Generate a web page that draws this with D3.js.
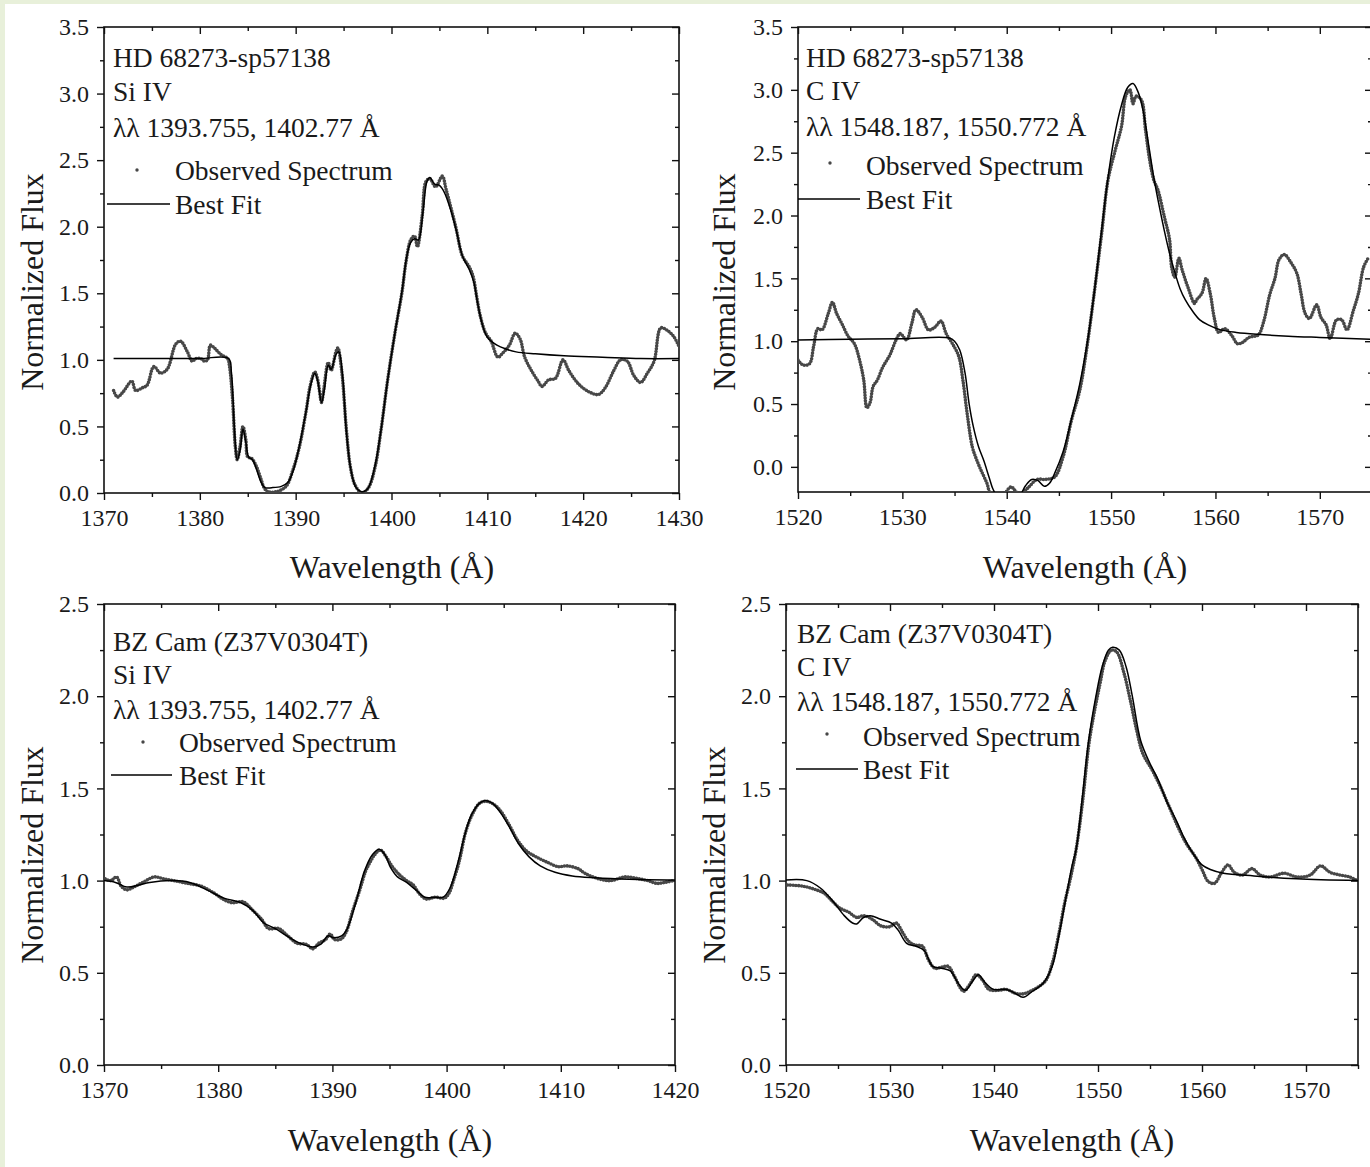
<!DOCTYPE html>
<html>
<head>
<meta charset="utf-8">
<script src="https://cdnjs.cloudflare.com/ajax/libs/d3/7.8.5/d3.min.js"></script>
<style>
body{margin:0;background:#e8f0da;}
svg{display:block;}
text{font-family:"Liberation Serif","Times New Roman",serif;fill:#1a1a1a;}
</style>
</head>
<body>
<svg id="fig" width="1370" height="1167"></svg>
<script>
// ---- data: [wavelength, normalized flux] ----
var obsSiHD = [[1371.0,0.77],[1371.4,0.72],[1372.0,0.76],[1372.9,0.84],[1373.3,0.77],[1374.0,0.79],[1374.5,0.81],[1375.2,0.95],[1375.9,0.90],[1376.6,0.93],[1377.5,1.12],[1378.0,1.14],[1378.7,1.06],[1379.2,0.99],[1379.6,1.01],[1380.1,1.01],[1380.5,0.99],[1380.8,1.00],[1381.1,1.11],[1381.5,1.09],[1382.2,1.04],[1382.9,1.01],[1383.1,0.95],[1383.4,0.72],[1383.7,0.35],[1383.9,0.25],[1384.2,0.35],[1384.5,0.50],[1384.8,0.40],[1385.0,0.27],[1385.4,0.26],[1385.9,0.20],[1386.4,0.10],[1386.7,0.04],[1387.1,0.01],[1388.0,0.01],[1389.0,0.05],[1389.7,0.17],[1390.4,0.35],[1391.1,0.62],[1391.5,0.80],[1392.0,0.91],[1392.3,0.85],[1392.7,0.68],[1392.9,0.76],[1393.4,0.98],[1393.7,0.92],[1394.2,1.06],[1394.4,1.09],[1394.8,0.92],[1395.3,0.47],[1395.7,0.20],[1396.2,0.06],[1396.9,0.00],[1397.6,0.04],[1398.3,0.20],[1398.9,0.47],[1399.6,0.85],[1400.4,1.22],[1401.1,1.51],[1401.5,1.73],[1402.0,1.90],[1402.4,1.93],[1402.7,1.85],[1403.2,2.08],[1403.6,2.34],[1404.0,2.36],[1404.6,2.30],[1405.3,2.38],[1405.7,2.28],[1406.7,2.00],[1407.4,1.78],[1408.1,1.70],[1408.5,1.63],[1408.9,1.47],[1409.2,1.35],[1409.7,1.22],[1410.0,1.18],[1410.4,1.14],[1411.1,1.02],[1411.6,1.05],[1412.3,1.11],[1412.9,1.20],[1413.4,1.16],[1413.9,1.02],[1414.6,0.92],[1415.3,0.84],[1415.7,0.80],[1416.4,0.85],[1417.1,0.86],[1417.9,1.00],[1418.5,0.92],[1419.5,0.82],[1420.6,0.76],[1421.6,0.74],[1422.3,0.79],[1423.2,0.92],[1423.9,1.00],[1424.6,0.99],[1425.3,0.88],[1426.0,0.83],[1426.7,0.90],[1427.4,0.99],[1428.1,1.24],[1428.8,1.22],[1429.5,1.17],[1430.0,1.10]];
var fitSiHD = [[1371.0,1.01],[1376,1.01],[1380,1.01],[1383.0,1.01],[1383.3,0.90],[1383.6,0.50],[1383.9,0.25],[1384.2,0.32],[1384.5,0.48],[1384.8,0.38],[1385.1,0.27],[1385.5,0.25],[1385.9,0.18],[1386.4,0.08],[1386.8,0.04],[1387.5,0.04],[1388.5,0.05],[1389.2,0.08],[1389.8,0.18],[1390.4,0.36],[1391.1,0.62],[1391.6,0.82],[1392.0,0.90],[1392.3,0.84],[1392.7,0.68],[1393.0,0.78],[1393.4,0.96],[1393.7,0.93],[1394.2,1.04],[1394.5,1.06],[1394.9,0.88],[1395.3,0.45],[1395.8,0.16],[1396.3,0.04],[1396.9,0.01],[1397.5,0.03],[1398.2,0.18],[1398.9,0.47],[1399.6,0.85],[1400.4,1.22],[1401.1,1.52],[1401.6,1.78],[1402.0,1.88],[1402.4,1.91],[1402.8,1.90],[1403.3,2.12],[1403.7,2.34],[1404.0,2.37],[1404.5,2.32],[1405.0,2.31],[1405.5,2.26],[1406.2,2.12],[1406.8,1.96],[1407.4,1.78],[1408.1,1.68],[1408.6,1.58],[1409.0,1.42],[1409.5,1.26],[1410.0,1.17],[1411,1.11],[1412,1.08],[1413,1.06],[1415,1.045],[1418,1.03],[1422,1.02],[1426,1.01],[1430,1.01]];

var obsCivHD = [[1520.0,0.85],[1520.5,0.81],[1521.1,0.82],[1521.5,0.96],[1521.9,1.10],[1522.3,1.09],[1522.9,1.22],[1523.3,1.31],[1523.7,1.22],[1524.2,1.14],[1524.8,1.04],[1525.4,0.98],[1525.9,0.85],[1526.3,0.69],[1526.6,0.47],[1526.9,0.51],[1527.2,0.64],[1527.6,0.69],[1528.1,0.79],[1528.8,0.89],[1529.4,1.01],[1529.8,1.06],[1530.4,1.01],[1530.9,1.14],[1531.3,1.25],[1531.9,1.19],[1532.5,1.09],[1533.1,1.11],[1533.7,1.16],[1534.2,1.06],[1534.8,0.98],[1535.4,0.88],[1535.8,0.69],[1536.2,0.43],[1536.7,0.16],[1537.1,0.06],[1537.5,-0.02],[1538.1,-0.13],[1538.5,-0.22],[1539.5,-0.24],[1540.4,-0.16],[1541.2,-0.22],[1542.0,-0.17],[1542.9,-0.10],[1543.7,-0.10],[1544.6,-0.08],[1545.4,0.08],[1546.2,0.37],[1547.0,0.61],[1547.7,0.96],[1548.3,1.33],[1549.1,1.86],[1549.7,2.28],[1550.4,2.52],[1551.0,2.71],[1551.4,2.95],[1551.8,3.00],[1552.1,2.89],[1552.4,2.95],[1552.9,2.92],[1553.3,2.68],[1553.7,2.44],[1554.1,2.28],[1554.5,2.20],[1555.1,1.99],[1555.6,1.81],[1555.8,1.59],[1556.1,1.51],[1556.5,1.66],[1556.8,1.57],[1557.4,1.42],[1558.0,1.30],[1558.2,1.33],[1558.7,1.38],[1559.1,1.50],[1559.5,1.38],[1559.9,1.18],[1560.3,1.07],[1560.9,1.10],[1561.6,1.04],[1562.1,0.98],[1562.6,0.99],[1563.2,1.03],[1564.1,1.05],[1564.6,1.15],[1565.2,1.37],[1565.7,1.50],[1566.1,1.65],[1566.6,1.69],[1567.2,1.63],[1567.8,1.54],[1568.2,1.38],[1568.6,1.22],[1569.0,1.18],[1569.7,1.29],[1570.1,1.19],[1570.6,1.13],[1571.0,1.02],[1571.6,1.17],[1572.1,1.17],[1572.6,1.09],[1573.2,1.24],[1573.7,1.38],[1574.2,1.59],[1574.7,1.67]];
var fitCivHD = [[1520,1.01],[1525,1.015],[1530,1.02],[1534.5,1.025],[1535.0,1.0],[1535.5,0.93],[1536.0,0.75],[1536.4,0.50],[1536.8,0.32],[1537.3,0.16],[1537.8,0.05],[1538.3,-0.08],[1538.7,-0.18],[1539.2,-0.24],[1540.5,-0.25],[1541.3,-0.22],[1541.8,-0.15],[1542.4,-0.10],[1543.0,-0.11],[1543.6,-0.155],[1544.1,-0.13],[1544.6,-0.05],[1545.4,0.12],[1546.2,0.38],[1547.0,0.66],[1547.7,0.98],[1548.3,1.33],[1549.0,1.82],[1549.7,2.30],[1550.3,2.62],[1551.0,2.88],[1551.6,3.02],[1552.1,3.05],[1552.6,2.98],[1553.1,2.82],[1553.6,2.56],[1554.1,2.30],[1554.6,2.08],[1555.1,1.88],[1555.6,1.70],[1556.1,1.55],[1556.6,1.42],[1557.1,1.33],[1557.8,1.24],[1558.5,1.17],[1559.3,1.13],[1560.5,1.09],[1562.0,1.07],[1564.0,1.055],[1567.0,1.04],[1570.0,1.03],[1575.0,1.015]];

var obsSiBZ = [[1370.1,1.01],[1370.6,1.0],[1371.1,1.02],[1371.5,0.97],[1372.0,0.95],[1372.6,0.965],[1373.4,0.99],[1374.4,1.02],[1375.2,1.01],[1376.1,1.0],[1377.3,0.985],[1378.5,0.97],[1379.7,0.93],[1380.4,0.90],[1381.2,0.88],[1382.2,0.885],[1383.0,0.84],[1383.8,0.79],[1384.4,0.74],[1385.3,0.74],[1386.1,0.70],[1386.9,0.66],[1387.7,0.655],[1388.3,0.63],[1388.8,0.66],[1389.4,0.68],[1389.8,0.71],[1390.2,0.68],[1390.8,0.685],[1391.2,0.72],[1391.8,0.84],[1392.4,0.95],[1392.9,1.05],[1393.3,1.10],[1393.7,1.14],[1394.2,1.166],[1394.7,1.13],[1395.2,1.08],[1395.9,1.03],[1396.5,1.00],[1397.1,0.975],[1397.6,0.93],[1398.2,0.90],[1399.0,0.91],[1399.8,0.905],[1400.2,0.93],[1400.6,1.0],[1401.0,1.08],[1401.2,1.13],[1401.7,1.27],[1402.3,1.365],[1402.9,1.42],[1403.5,1.43],[1404.1,1.415],[1404.7,1.38],[1405.5,1.30],[1406.2,1.22],[1407.0,1.16],[1407.8,1.13],[1408.8,1.10],[1409.8,1.075],[1410.5,1.08],[1411.5,1.065],[1412.1,1.04],[1413.3,1.01],[1414.4,1.0],[1415.6,1.02],[1416.8,1.01],[1417.6,1.0],[1418.4,0.985],[1419.1,0.99],[1419.9,1.0]];
var fitSiBZ = [[1370,1.0],[1371,0.99],[1372,0.965],[1373,0.975],[1374,0.99],[1376,1.0],[1377.5,0.99],[1379,0.95],[1380.5,0.905],[1382,0.88],[1383,0.84],[1384,0.77],[1385,0.74],[1386,0.70],[1387,0.665],[1388.3,0.64],[1389,0.655],[1389.6,0.70],[1390.1,0.69],[1390.8,0.70],[1391.3,0.74],[1392,0.87],[1392.8,1.05],[1393.5,1.14],[1394.1,1.17],[1394.6,1.14],[1395.1,1.07],[1395.7,1.02],[1396.5,0.99],[1397.3,0.95],[1398.1,0.91],[1399,0.91],[1399.7,0.91],[1400.3,0.96],[1401,1.1],[1401.6,1.25],[1402.2,1.36],[1402.9,1.42],[1403.4,1.435],[1404,1.42],[1404.7,1.37],[1405.5,1.29],[1406.3,1.20],[1407.2,1.13],[1408.2,1.08],[1409.5,1.045],[1411,1.025],[1413,1.015],[1416,1.007],[1420,1.003]];

var obsCivBZ = [[1520.15,0.976],[1521.6,0.97],[1522.9,0.95],[1523.7,0.93],[1524.5,0.885],[1525.2,0.85],[1526.0,0.83],[1526.8,0.80],[1527.45,0.81],[1528.3,0.79],[1529.1,0.755],[1530.0,0.75],[1530.6,0.77],[1531.2,0.72],[1531.8,0.67],[1532.45,0.65],[1533.1,0.645],[1533.7,0.57],[1534.3,0.525],[1534.95,0.53],[1535.6,0.535],[1536.2,0.48],[1536.8,0.415],[1537.1,0.40],[1537.7,0.44],[1538.3,0.49],[1538.9,0.46],[1539.5,0.41],[1540.4,0.405],[1541.2,0.41],[1542.0,0.39],[1542.7,0.385],[1543.5,0.40],[1544.3,0.425],[1545.0,0.46],[1545.6,0.55],[1546.2,0.70],[1546.8,0.88],[1547.3,1.0],[1547.9,1.17],[1548.5,1.42],[1549.1,1.73],[1549.5,1.87],[1550.2,2.07],[1550.7,2.195],[1551.3,2.25],[1551.8,2.24],[1552.5,2.125],[1553.1,1.98],[1553.7,1.82],[1554.3,1.69],[1555.2,1.60],[1556.0,1.51],[1556.85,1.40],[1557.7,1.29],[1558.5,1.20],[1559.35,1.13],[1560.0,1.06],[1560.6,0.995],[1561.2,0.985],[1561.85,1.04],[1562.5,1.085],[1563.1,1.045],[1563.9,1.03],[1564.8,1.065],[1565.6,1.03],[1566.6,1.02],[1567.9,1.04],[1569.1,1.02],[1570.4,1.03],[1571.4,1.08],[1572.3,1.045],[1573.3,1.03],[1574.2,1.02],[1574.9,1.0]];
var fitCivBZ = [[1520.0,1.003],[1522.0,1.0],[1523.3,0.96],[1524.5,0.89],[1525.6,0.81],[1526.4,0.77],[1526.8,0.765],[1527.45,0.80],[1528.1,0.81],[1529.1,0.79],[1530.15,0.77],[1530.8,0.73],[1531.6,0.66],[1532.45,0.645],[1533.3,0.62],[1534.1,0.535],[1534.95,0.525],[1535.8,0.51],[1536.6,0.44],[1537.25,0.405],[1537.9,0.45],[1538.5,0.49],[1539.1,0.45],[1539.95,0.41],[1541.2,0.41],[1542.0,0.39],[1542.8,0.367],[1543.7,0.40],[1544.75,0.445],[1545.6,0.535],[1546.2,0.69],[1546.8,0.87],[1547.5,1.08],[1547.9,1.17],[1548.5,1.455],[1549.1,1.76],[1549.8,2.0],[1550.4,2.16],[1551.0,2.25],[1551.4,2.265],[1552.05,2.25],[1552.7,2.16],[1553.3,2.0],[1554.1,1.76],[1555.0,1.635],[1555.8,1.545],[1556.6,1.43],[1557.5,1.33],[1558.3,1.23],[1559.1,1.15],[1560.0,1.085],[1560.8,1.06],[1562.05,1.04],[1565.0,1.025],[1569.1,1.01],[1575.0,1.0]];

// tick values
var siTicksHD = [1370,1380,1390,1400,1410,1420,1430];
var siTicksBZ = [1370,1380,1390,1400,1410,1420];
var civTicks = [1520,1530,1540,1550,1560,1570];
var fluxTicksHD = [0,0.5,1,1.5,2,2.5,3,3.5];
var fluxTicksBZ = [0,0.5,1,1.5,2,2.5];

// labels
var starHD = 'HD 68273-sp57138';
var starBZ = 'BZ Cam (Z37V0304T)';
var ionSi = 'Si IV', ionC = 'C IV';
var waveSi = 'λλ 1393.755, 1402.77 Å';
var waveC = 'λλ 1548.187, 1550.772 Å';
var legendObs = 'Observed Spectrum', legendFit = 'Best Fit';
var xTitle = 'Wavelength (Å)', yTitle = 'Normalized Flux';

var svg = d3.select('#fig');
svg.append('rect').attr('width',1370).attr('height',1167).attr('fill','#e8f0da');
svg.append('rect').attr('x',5).attr('y',4).attr('width',1365).attr('height',1163).attr('fill','#fff');

// panel layout (pixels)
var panels = [
	{id:'a', obs:obsSiHD, fit:fitSiHD, xd:[1370,1430], yd:[0,3.5], xt:siTicksHD, yt:fluxTicksHD,
	 l:104, r:679, t:27, b:493, lines:[starHD,ionSi,waveSi], ly:[57,91,127], lx:113,
	 dot:[137,170], obsY:170, lineX:[107,170], fitY:204, legX:175,
	 yTitleX:32, yTitleY:282, xTitleX:392, xTitleY:567},
	{id:'b', obs:obsCivHD, fit:fitCivHD, xd:[1520,1575], yd:[-0.2,3.5], xt:civTicks, yt:fluxTicksHD,
	 l:798, r:1372, t:27, b:492, lines:[starHD,ionC,waveC], ly:[57,90,126], lx:806,
	 dot:[830,163], obsY:165, lineX:[798,860], fitY:199, legX:866,
	 yTitleX:724, yTitleY:282, xTitleX:1085, xTitleY:567},
	{id:'c', obs:obsSiBZ, fit:fitSiBZ, xd:[1370,1420], yd:[0,2.5], xt:siTicksBZ, yt:fluxTicksBZ,
	 l:104, r:675, t:604, b:1065, lines:[starBZ,ionSi,waveSi], ly:[641,674,709], lx:113,
	 dot:[143,742], obsY:742, lineX:[111,172], fitY:775, legX:179,
	 yTitleX:32, yTitleY:855, xTitleX:390, xTitleY:1140},
	{id:'d', obs:obsCivBZ, fit:fitCivBZ, xd:[1520,1575], yd:[0,2.5], xt:civTicks, yt:fluxTicksBZ,
	 l:786, r:1358, t:604, b:1065, lines:[starBZ,ionC,waveC], ly:[633,666,701], lx:797,
	 dot:[827,734], obsY:736, lineX:[796,858], fitY:769, legX:863,
	 yTitleX:714, yTitleY:855, xTitleX:1072, xTitleY:1140}
];

function minorOf(ticks, step, dom){
	var out = [];
	ticks.forEach(function(t){ var m = t + step/2; if (m <= dom[1] + 1e-9) out.push(m); });
	return out;
}

function styleAxis(sel){
	sel.select('.domain').remove();
	sel.selectAll('line').attr('stroke','#111').attr('stroke-width',1.4);
	sel.selectAll('text').attr('font-size',24).attr('font-family','"Liberation Serif",serif').attr('fill','#1a1a1a');
}

panels.forEach(function(p){
	var x = d3.scaleLinear().domain(p.xd).range([p.l,p.r]);
	var y = d3.scaleLinear().domain(p.yd).range([p.b,p.t]);
	var g = svg.append('g');

	g.append('clipPath').attr('id','clip-'+p.id)
		.append('rect').attr('x',p.l).attr('y',p.t).attr('width',p.r-p.l).attr('height',p.b-p.t);

	var xMinor = minorOf([p.xd[0]-10].concat(p.xt), 10, p.xd).filter(function(v){return v>p.xd[0];});
	var yMinor = minorOf(p.yt, 0.5, p.yd);

	// bottom + left outward, top + right inward
	g.append('g').attr('transform','translate(0,'+p.b+')')
		.call(d3.axisBottom(x).tickValues(p.xt).tickSize(7).tickSizeOuter(0).tickPadding(9).tickFormat(d3.format('d')))
		.call(styleAxis);
	g.append('g').attr('transform','translate(0,'+p.b+')')
		.call(d3.axisBottom(x).tickValues(xMinor).tickSize(4).tickSizeOuter(0).tickFormat(''))
		.call(styleAxis);
	g.append('g').attr('transform','translate(0,'+p.t+')')
		.call(d3.axisTop(x).tickValues(p.xt).tickSize(-7).tickSizeOuter(0).tickFormat(''))
		.call(styleAxis);
	g.append('g').attr('transform','translate(0,'+p.t+')')
		.call(d3.axisTop(x).tickValues(xMinor).tickSize(-4).tickSizeOuter(0).tickFormat(''))
		.call(styleAxis);
	g.append('g').attr('transform','translate('+p.l+',0)')
		.call(d3.axisLeft(y).tickValues(p.yt).tickSize(7).tickSizeOuter(0).tickPadding(8).tickFormat(d3.format('.1f')))
		.call(styleAxis);
	g.append('g').attr('transform','translate('+p.l+',0)')
		.call(d3.axisLeft(y).tickValues(yMinor).tickSize(4).tickSizeOuter(0).tickFormat(''))
		.call(styleAxis);
	g.append('g').attr('transform','translate('+p.r+',0)')
		.call(d3.axisRight(y).tickValues(p.yt).tickSize(-7).tickSizeOuter(0).tickFormat(''))
		.call(styleAxis);
	g.append('g').attr('transform','translate('+p.r+',0)')
		.call(d3.axisRight(y).tickValues(yMinor).tickSize(-4).tickSizeOuter(0).tickFormat(''))
		.call(styleAxis);

	// frame
	g.append('rect').attr('x',p.l).attr('y',p.t).attr('width',p.r-p.l).attr('height',p.b-p.t)
		.attr('fill','none').attr('stroke','#111').attr('stroke-width',1.6);

	var line = d3.line().x(function(d){return x(d[0]);}).y(function(d){return y(d[1]);})
		.curve(d3.curveCatmullRom.alpha(0.5));

	var plot = g.append('g').attr('clip-path','url(#clip-'+p.id+')');
	// observed spectrum: dense dots
	plot.append('path').datum(p.obs).attr('d',line)
		.attr('fill','none').attr('stroke','#474747').attr('stroke-width',3.6)
		.attr('stroke-linecap','round').attr('stroke-dasharray','0 2.8');
	// best fit
	plot.append('path').datum(p.fit).attr('d',line)
		.attr('fill','none').attr('stroke','#000').attr('stroke-width',1.5);

	// annotation
	p.lines.forEach(function(s,i){
		g.append('text').attr('x',p.lx).attr('y',p.ly[i]).attr('dominant-baseline','central')
			.attr('font-size',27.5).text(s);
	});
	// legend
	g.append('circle').attr('cx',p.dot[0]).attr('cy',p.dot[1]).attr('r',1.7).attr('fill','#474747');
	g.append('text').attr('x',p.legX).attr('y',p.obsY).attr('dominant-baseline','central')
		.attr('font-size',27.5).text(legendObs);
	g.append('line').attr('x1',p.lineX[0]).attr('x2',p.lineX[1]).attr('y1',p.fitY).attr('y2',p.fitY)
		.attr('stroke','#000').attr('stroke-width',1.5);
	g.append('text').attr('x',p.legX).attr('y',p.fitY).attr('dominant-baseline','central')
		.attr('font-size',27.5).text(legendFit);

	// axis titles
	g.append('text').attr('x',p.xTitleX).attr('y',p.xTitleY).attr('text-anchor','middle')
		.attr('dominant-baseline','central').attr('font-size',32).text(xTitle);
	g.append('text').attr('transform','translate('+p.yTitleX+','+p.yTitleY+') rotate(-90)')
		.attr('text-anchor','middle').attr('dominant-baseline','central').attr('font-size',32).text(yTitle);
});
</script>
</body>
</html>
